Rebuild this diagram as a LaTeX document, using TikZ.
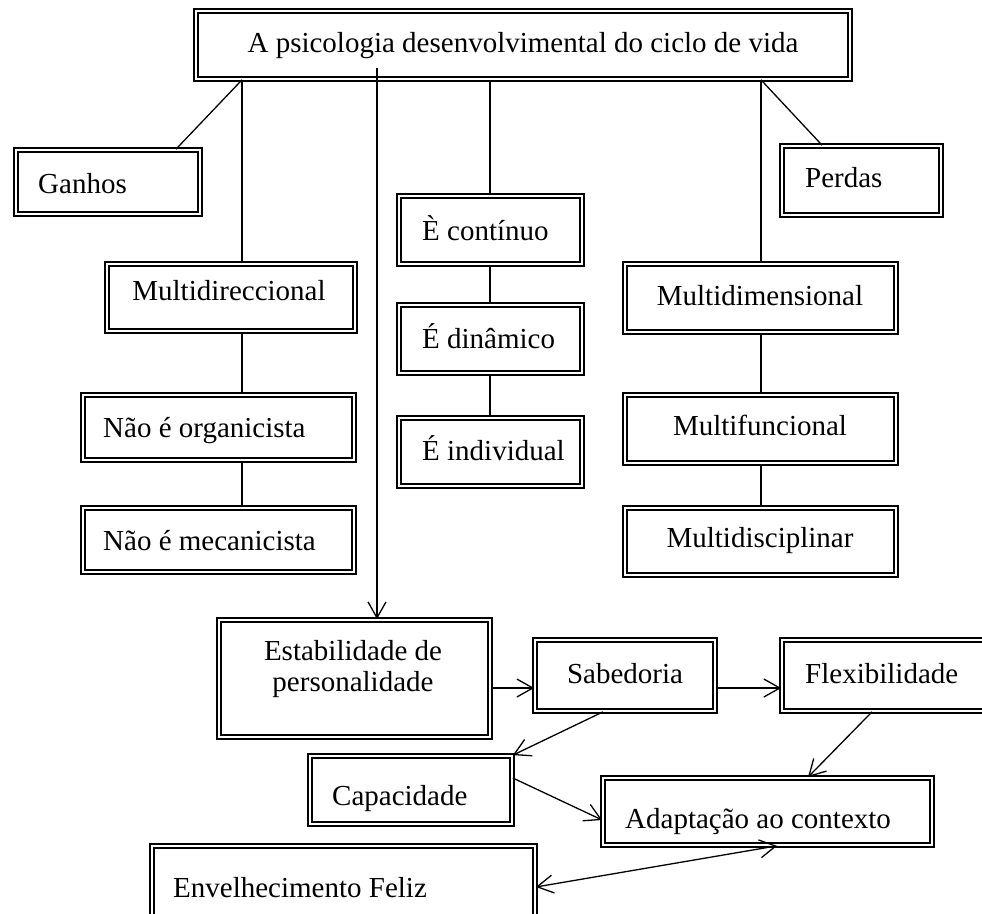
\documentclass[tikz,border=0pt]{standalone}
\usepackage{fontspec}
\setmainfont{Liberation Serif}
\usetikzlibrary{arrows.meta,fit}

\tikzset{
  dbox/.style={draw, double, double distance=2.2pt, line width=1.7pt, inner sep=0pt},
  txt/.style={font=\fontsize{29}{31}\selectfont, inner sep=0pt},
  conn/.style={line width=1.3pt},
  tip/.tip={Straight Barb[length=16pt,width=18pt]},
  arr/.style={conn, -tip},
}

\begin{document}
\begin{tikzpicture}[x=1pt, y=-1pt]
\useasboundingbox (0,0) rectangle (982,913);
\clip (0,0) rectangle (982,913);

% boxes
\node[dbox, fit={(196,11) (850,79)}]   (top)    {};
\node[dbox, fit={(16,150) (200,214)}]  (ganhos) {};
\node[dbox, fit={(782,146) (941,215)}] (perdas) {};
\node[dbox, fit={(107,264) (355,331)}] (mdir)   {};
\node[dbox, fit={(83,395) (354,460)}]  (org)    {};
\node[dbox, fit={(83,508) (354,572)}]  (mec)    {};
\node[dbox, fit={(399,196) (582,264)}] (cont)   {};
\node[dbox, fit={(399,305) (582,373)}] (din)    {};
\node[dbox, fit={(399,418) (582,486)}] (ind)    {};
\node[dbox, fit={(625,264) (896,332)}] (mdim)   {};
\node[dbox, fit={(625,395) (896,463)}] (mfunc)  {};
\node[dbox, fit={(625,508) (896,575)}] (mdisc)  {};
\node[dbox, fit={(219,620) (490,737)}] (estab)  {};
\node[dbox, fit={(535,640) (715,711)}] (sab)    {};
\node[dbox, fit={(782,640) (995,711)}] (flex)   {};
\node[dbox, fit={(310,756) (512,824)}] (cap)    {};
\node[dbox, fit={(603,778) (932,845)}] (adap)   {};
\node[dbox, fit={(152,846) (535,940)}] (envel)  {};

% labels
\node[txt, anchor=base] (top-t) at (523,52) {A psicologia desenvolvimental do ciclo de vida};
\node[txt, anchor=base west] (ganhos-t) at (38,193) {Ganhos};
\node[txt, anchor=base west] (perdas-t) at (805,187) {Perdas};
\node[txt, anchor=base] (mdir-t) at (229,300) {Multidireccional};
\node[txt, anchor=base west] (org-t) at (103,437) {Não é organicista};
\node[txt, anchor=base west] (mec-t) at (103,550) {Não é mecanicista};
\node[txt, anchor=base west] (cont-t) at (422,240) {È contínuo};
\node[txt, anchor=base west] (din-t) at (422,348) {É dinâmico};
\node[txt, anchor=base west] (ind-t) at (422,460) {É individual};
\node[txt, anchor=base] (mdim-t) at (760,305) {Multidimensional};
\node[txt, anchor=base] (mfunc-t) at (760,435) {Multifuncional};
\node[txt, anchor=base] (mdisc-t) at (760,547) {Multidisciplinar};
\node[txt, align=center] (estab-t) at (353,669) {Estabilidade de\\personalidade};
\node[txt, anchor=base] (sab-t) at (625,683) {Sabedoria};
\node[txt, anchor=base west] (flex-t) at (805,683) {Flexibilidade};
\node[txt, anchor=base west] (cap-t) at (332,805) {Capacidade};
\node[txt, anchor=base west] (adap-t) at (625,828) {Adaptação ao contexto};
\node[txt, anchor=base west] (envel-t) at (173,897) {Envelhecimento Feliz};

% reference points for connector ends
\coordinate (xL) at (242,0);
\coordinate (xG) at (176,0);
\coordinate (xM) at (490,0);
\coordinate (xR) at (761,0);
\coordinate (xP) at (822,0);
\coordinate (src) at (377,68);
\coordinate (yS) at (0,688);
\coordinate (xs) at (603,0);
\coordinate (xf) at (872,0);
\coordinate (xad) at (808,0);
\coordinate (yc) at (0,778);
\coordinate (ya) at (0,820);
\coordinate (ye) at (0,887);
\coordinate (xe) at (777,0);

% left branch
\draw[conn] (top.south -| xL) -- (mdir.north -| xL);
\draw[conn] (top.south -| xL) -- (ganhos.north -| xG);
\draw[conn] (mdir.south -| xL) -- (org.north -| xL);
\draw[conn] (org.south -| xL) -- (mec.north -| xL);

% middle branch
\draw[conn] (top.south -| xM) -- (cont.north -| xM);
\draw[conn] (cont.south -| xM) -- (din.north -| xM);
\draw[conn] (din.south -| xM) -- (ind.north -| xM);

% right branch
\draw[conn] (top.south -| xR) -- (mdim.north -| xR);
\draw[conn] (top.south -| xR) -- (perdas.north -| xP);
\draw[conn] (mdim.south -| xR) -- (mfunc.north -| xR);
\draw[conn] (mfunc.south -| xR) -- (mdisc.north -| xR);

% arrows
\draw[arr] (src) -- (estab.north -| src);
\draw[arr] (estab.east |- yS) -- (sab.west |- yS);
\draw[arr] (sab.east |- yS) -- (flex.west |- yS);
\draw[arr] (sab.south -| xs) -- (cap.north east);
\draw[arr] (flex.south -| xf) -- (adap.north -| xad);
\draw[arr] (cap.east |- yc) -- (adap.west |- ya);
\draw[conn, tip-tip] (envel.east |- ye) -- (adap.south -| xe);
\end{tikzpicture}
\end{document}
